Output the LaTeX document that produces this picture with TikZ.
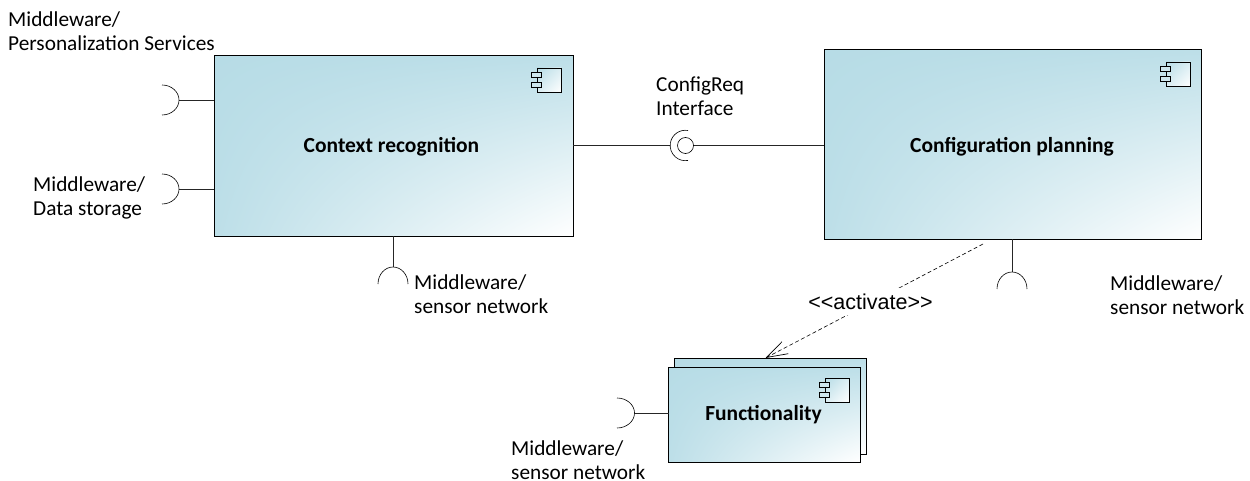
\documentclass[tikz,border=0pt]{standalone}
\usepackage{fontspec}
\setmainfont{Carlito}
\newfontfamily\arialf{Liberation Sans}
\usetikzlibrary{arrows.meta,shadings}
\definecolor{boxblue}{HTML}{B7DCE6}
\tikzset{
  x=1pt,y=-1pt,
  comp/.style={draw=black,line width=1pt,upper left=boxblue,upper right=boxblue!92,lower left=boxblue!92,lower right=white},
  wire/.style={draw=black!85,line width=.8pt},
  sock/.style={draw=black,line width=.6pt},
  tabbox/.style={draw=black,line width=.7pt,fill=boxblue!70},
  lbl/.style={anchor=west,align=left,inner sep=0pt,font=\fontsize{21.3}{24}\selectfont},
  ttl/.style={inner sep=0pt,font=\fontsize{21.5}{24}\selectfont\bfseries},
}
\newcommand{\compbox}[4]{% x1 y1 x2 y2
  \shade[comp] (#1,#2) rectangle (#3,#4);
}
\newcommand{\compicon}[2]{% right, top
  \shade[draw=black,line width=.7pt,upper left=boxblue,upper right=boxblue!50,lower left=boxblue!50,lower right=white] (#1-24,#2) rectangle (#1,#2+24);
  \draw[tabbox] (#1-30,#2+4) rectangle (#1-19.5,#2+9);
  \draw[tabbox] (#1-30,#2+14) rectangle (#1-19.5,#2+19);
}
\begin{document}
\begin{tikzpicture}
\useasboundingbox (0,0) rectangle (1250,481);
% boxes
\compbox{214}{56}{573}{236}
\compicon{561}{68}
\compbox{824}{50}{1201}{239}
\compicon{1190}{62}
\compbox{674.5}{358.5}{866}{454}
\compbox{668.5}{367}{860}{462}
\compicon{849}{378}
% titles
\node[ttl] (tctx) at (391.5,147) {Context recognition};
\node[ttl] (tcfg) at (1012,147) {Configuration planning};
\node[ttl] (tfun) at (763.5,415) {Functionality};
% coordinates on boxes
\coordinate (c1) at (214,100);
\coordinate (s1) at (179,100);
\coordinate (c2) at (214,189);
\coordinate (s2) at (179,189);
\coordinate (c3) at (393,236);
\coordinate (s3) at (393,267);
\coordinate (c4) at (1012,239);
\coordinate (s4) at (1012,272);
\coordinate (c5) at (668.5,413);
\coordinate (s5) at (634.5,413);
\coordinate (l1) at (573,145.5);
\coordinate (l2) at (670,145.5);
\coordinate (l3) at (693.5,145.5);
\coordinate (l4) at (824,145.5);
\draw[wire] (c1) -- (s1);
\draw[wire] (c2) -- (s2);
\draw[wire] (c3) -- (s3);
\draw[wire] (c4) -- (s4);
\draw[wire] (c5) -- (s5);
\draw[wire] (l1) -- (l2);
\draw[wire] (l3) -- (l4);
% sockets
\draw[sock] (162,85) arc[start angle=90,end angle=-90,x radius=17pt,y radius=15pt];
\draw[sock] (162,174) arc[start angle=90,end angle=-90,x radius=17pt,y radius=15pt];
\draw[sock] (617,398) arc[start angle=90,end angle=-90,x radius=17.5pt,y radius=15pt];
\draw[sock] (378,284) arc[start angle=180,end angle=0,x radius=15pt,y radius=17pt];
\draw[sock] (997,289) arc[start angle=180,end angle=0,x radius=15pt,y radius=17pt];
% lollipop
\node[circle,draw=black,line width=.6pt,inner sep=0pt,minimum size=16pt] (ball) at (685.5,145.5) {};
\draw[sock] (688,130.5) arc[start angle=80,end angle=280,radius=15.2pt];
% dependency
\coordinate (d1) at (983,244);
\coordinate (d2) at (765.5,358);
\draw[black,line width=.6pt,dash pattern=on 4pt off 2.5pt,-{Straight Barb[length=21pt,width=13.5pt,line width=.7pt]}] (d1) -- (d2);
\node[fill=white,inner sep=0pt,minimum height=27pt,font=\arialf\fontsize{21.5}{24}\selectfont] (act) at (870.5,301.5) {<{}<activate>{}>};
% labels
\node[lbl] (a) at (8,31) {Middleware/\\Personalization Services};
\node[lbl] (b) at (33,198) {Middleware/\\Data storage};
\node[lbl] (c) at (414,294) {Middleware/\\sensor network};
\node[lbl] (d) at (1110,295) {Middleware/\\sensor network};
\node[lbl] (e) at (511,460) {Middleware/\\sensor network};
\node[lbl] (f) at (656,96) {ConfigReq\\Interface};
\end{tikzpicture}
\end{document}
